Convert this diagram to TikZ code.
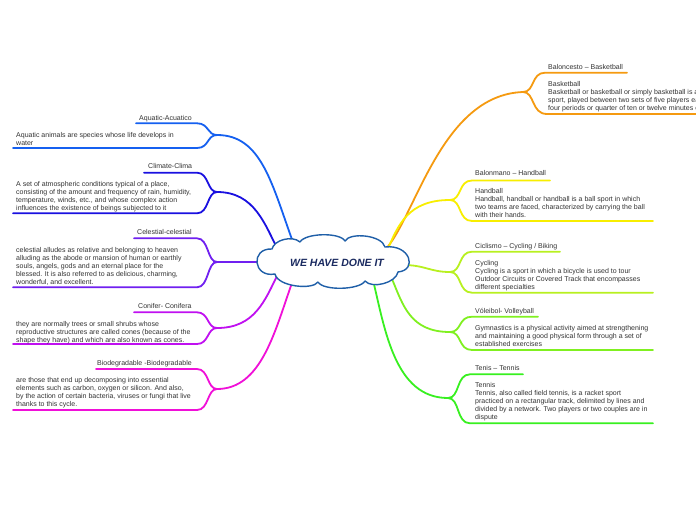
\documentclass[tikz,border=0pt]{standalone}
\usepackage{fontspec}
\setmainfont{Liberation Sans}
\definecolor{txt}{HTML}{333333}
\definecolor{cAqu}{HTML}{1560F0}
\definecolor{cCli}{HTML}{1A10E0}
\definecolor{cCel}{HTML}{7020F0}
\definecolor{cCon}{HTML}{C010F0}
\definecolor{cBio}{HTML}{F010D8}
\definecolor{cBas}{HTML}{F59A10}
\definecolor{cHan}{HTML}{F8EE00}
\definecolor{cCyc}{HTML}{B8F020}
\definecolor{cVol}{HTML}{80F020}
\definecolor{cTen}{HTML}{38F020}
\definecolor{cloudblue}{HTML}{1F5FA8}
\definecolor{titleblue}{HTML}{1A2A60}
\tikzset{
  branch/.style={line width=1.8pt, line cap=round},
  lbl/.style={anchor=base west, inner sep=0pt, text=txt, font=\fontsize{7}{8}\selectfont},
  body/.style={anchor=north west, inner sep=0pt, align=left, text=txt, font=\fontsize{7}{8}\selectfont},
  cloudline/.style={draw=cloudblue, line width=1.4pt, fill=white, line join=round},
}
\begin{document}
\begin{tikzpicture}[x=1pt,y=-1pt]
\clip (0,0) rectangle (696,520);
\fill[white] (0,0) rectangle (696,520);

% ---------- coordinates ----------
\coordinate (cA) at (294,245);
\coordinate (cC) at (279,252);
\coordinate (cE) at (262,262);
\coordinate (cF) at (278,274);
\coordinate (cB) at (293,280);
\coordinate (cBa) at (384,251);
\coordinate (cHa) at (387,251);
\coordinate (cCy) at (403,265);
\coordinate (cVo) at (392,279);
\coordinate (cTe) at (373,280);

\coordinate (jA) at (217,135);
\coordinate (jC) at (217,192);
\coordinate (jE) at (217,262);
\coordinate (jF) at (217,328);
\coordinate (jB) at (217,389);
\coordinate (jBa) at (523,92);
\coordinate (jHa) at (450,200);
\coordinate (jCy) at (450,272);
\coordinate (jVo) at (450,332);
\coordinate (jTe) at (448,398);

% ---------- main branches ----------
\draw[branch,cAqu] (jA) .. controls (262,135) and (272,185) .. (cA);
\draw[branch,cCli] (jC) .. controls (255,192) and (265,225) .. (cC);
\draw[branch,cCel] (jE) -- (cE);
\draw[branch,cCon] (jF) .. controls (255,328) and (265,300) .. (cF);
\draw[branch,cBio] (jB) .. controls (262,389) and (275,330) .. (cB);
\draw[branch,cBas] (cBa) .. controls (415,220) and (440,95) .. (jBa);
\draw[branch,cHan] (cHa) .. controls (398,225) and (408,200) .. (jHa);
\draw[branch,cCyc] (cCy) .. controls (425,265) and (430,272) .. (jCy);
\draw[branch,cVol] (cVo) .. controls (403,305) and (410,332) .. (jVo);
\draw[branch,cTen] (cTe) .. controls (385,330) and (395,398) .. (jTe);

% ---------- left sub-branches ----------
\coordinate (aU) at (136,123.3); \coordinate (aL) at (13,148);
\draw[branch,cAqu] (jA) .. controls (207,135) and (209,123.3) .. (197,123.3) -- (aU);
\draw[branch,cAqu] (jA) .. controls (207,135) and (209,148) .. (197,148) -- (aL);
\coordinate (cU) at (144,172.7); \coordinate (cL) at (13,213.3);
\draw[branch,cCli] (jC) .. controls (207,192) and (209,172.7) .. (197,172.7) -- (cU);
\draw[branch,cCli] (jC) .. controls (207,192) and (209,213.3) .. (197,213.3) -- (cL);
\coordinate (eU) at (134,238.3); \coordinate (eL) at (13,287.3);
\draw[branch,cCel] (jE) .. controls (207,262) and (209,238.3) .. (197,238.3) -- (eU);
\draw[branch,cCel] (jE) .. controls (207,262) and (209,287.3) .. (197,287.3) -- (eL);
\coordinate (fU) at (134,312.3); \coordinate (fL) at (13,344);
\draw[branch,cCon] (jF) .. controls (207,328) and (209,312.3) .. (197,312.3) -- (fU);
\draw[branch,cCon] (jF) .. controls (207,328) and (209,344) .. (197,344) -- (fL);
\coordinate (bU) at (96,369); \coordinate (bL) at (13,410);
\draw[branch,cBio] (jB) .. controls (207,389) and (209,369) .. (197,369) -- (bU);
\draw[branch,cBio] (jB) .. controls (207,389) and (209,410) .. (197,410) -- (bL);

% ---------- right sub-branches ----------
\coordinate (baU) at (627,72.7); \coordinate (baL) at (700,114);
\draw[branch,cBas] (jBa) .. controls (535,92) and (531,72.7) .. (545,72.7) -- (baU);
\draw[branch,cBas] (jBa) .. controls (535,92) and (531,114) .. (547,114) -- (baL);
\coordinate (haU) at (550,180.5); \coordinate (haL) at (653,221);
\draw[branch,cHan] (jHa) .. controls (462,200) and (458,180.5) .. (472,180.5) -- (haU);
\draw[branch,cHan] (jHa) .. controls (462,200) and (458,221) .. (472,221) -- (haL);
\coordinate (cyU) at (560,251.7); \coordinate (cyL) at (653,292.7);
\draw[branch,cCyc] (jCy) .. controls (462,272) and (458,251.7) .. (472,251.7) -- (cyU);
\draw[branch,cCyc] (jCy) .. controls (462,272) and (458,292.7) .. (472,292.7) -- (cyL);
\coordinate (voU) at (538,316.7); \coordinate (voL) at (653,350);
\draw[branch,cVol] (jVo) .. controls (462,332) and (458,316.7) .. (472,316.7) -- (voU);
\draw[branch,cVol] (jVo) .. controls (462,332) and (458,350) .. (472,350) -- (voL);
\coordinate (teU) at (523,374.3); \coordinate (teL) at (653,423.3);
\draw[branch,cTen] (jTe) .. controls (460,398) and (456,374.3) .. (470,374.3) -- (teU);
\draw[branch,cTen] (jTe) .. controls (460,398) and (456,423.3) .. (470,423.3) -- (teL);

% ---------- central cloud ----------
\draw[cloudline] (275,274) .. controls (253,278) and (250,248) .. (272,249)
  .. controls (274,240) and (292,235) .. (300,242)
  .. controls (305,233) and (340,232) .. (345,241)
  .. controls (350,232) and (382,235) .. (385,247)
  .. controls (410,244) and (418,270) .. (398,272)
  .. controls (396,283) and (372,289) .. (365,281)
  .. controls (360,290) and (323,291) .. (318,282)
  .. controls (313,290) and (278,287) .. cycle;
\node[inner sep=0pt, text=titleblue, font=\fontsize{10.5}{12}\selectfont\bfseries\itshape] (root) at (337,263) {WE HAVE DONE IT};

% ---------- left texts ----------
\node[lbl] (tA) at (139,120) {Aquatic-Acuatico};
\node[body] (dA) at (16,131.8) {Aquatic animals are species whose life develops in\\water};
\node[lbl] (tC) at (148,168.3) {Climate-Clima};
\node[body] (dC) at (16,181.5) {A set of atmospheric conditions typical of a place,\\consisting of the amount and frequency of rain, humidity,\\temperature, winds, etc., and whose complex action\\influences the existence of beings subjected to it};
\node[lbl] (tE) at (137,234) {Celestial-celestial};
\node[body] (dE) at (16,247.5) {celestial alludes as relative and belonging to heaven\\alluding as the abode or mansion of human or earthly\\souls, angels, gods and an eternal place for the\\blessed. It is also referred to as delicious, charming,\\wonderful, and excellent.};
\node[lbl] (tF) at (138,308) {Conifer- Conifera};
\node[body] (dF) at (16,320.8) {they are normally trees or small shrubs whose\\reproductive structures are called cones (because of the\\shape they have) and which are also known as cones.};
\node[lbl] (tB) at (97,365.6) {Biodegradable -Biodegradable};
\node[body] (dB) at (16,377.5) {are those that end up decomposing into essential\\elements such as carbon, oxygen or silicon. And also,\\by the action of certain bacteria, viruses or fungi that live\\thanks to this cycle.};

% ---------- right texts ----------
\node[lbl] (tBa) at (548,69) {Baloncesto – Basketball};
\node[body] (dBa) at (548,80.8) {Basketball\\Basketball or basketball or simply basketball is a team\\sport, played between two sets of five players each during\\four periods or quarter of ten or twelve minutes each.};
\node[lbl] (tHa) at (475,175.6) {Balonmano – Handball};
\node[body] (dHa) at (475,188.2) {Handball\\Handball, handball or handball is a ball sport in which\\two teams are faced, characterized by carrying the ball\\with their hands.};
\node[lbl] (tCy) at (475,248) {Ciclismo – Cycling / Biking};
\node[body] (dCy) at (475,259.8) {Cycling\\Cycling is a sport in which a bicycle is used to tour\\Outdoor Circuits or Covered Track that encompasses\\different specialties};
\node[lbl] (tVo) at (475,313) {Vóleibol- Volleyball};
\node[body] (dVo) at (475,325.2) {Gymnastics is a physical activity aimed at strengthening\\and maintaining a good physical form through a set of\\established exercises};
\node[lbl] (tTe) at (475,370.6) {Tenis – Tennis};
\node[body] (dTe) at (475,382.5) {Tennis\\Tennis, also called field tennis, is a racket sport\\practiced on a rectangular track, delimited by lines and\\divided by a network. Two players or two couples are in\\dispute};
\end{tikzpicture}
\end{document}
